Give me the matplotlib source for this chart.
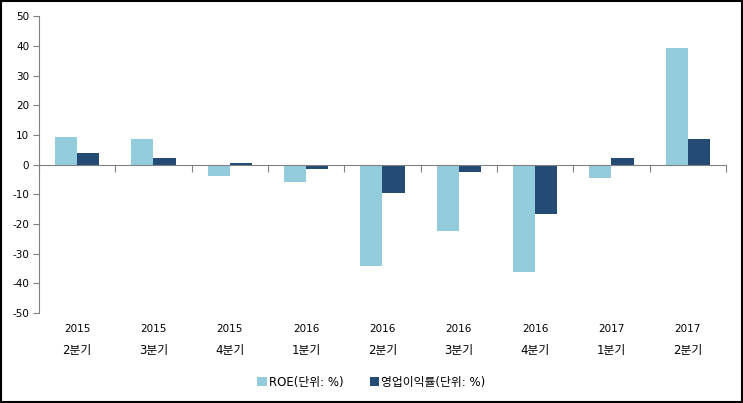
import numpy as np
import matplotlib.pyplot as plt
import matplotlib.transforms as mtransforms
from matplotlib.patches import Rectangle

plt.rcParams['font.family'] = ['DejaVu Sans', 'Noto Sans CJK KR']
plt.rcParams['axes.unicode_minus'] = False

years = ['2015', '2015', '2015', '2016', '2016', '2016', '2016', '2017', '2017']
quarters = ['2분기', '3분기', '4분기', '1분기', '2분기', '3분기', '4분기', '1분기', '2분기']
roe = [9.2, 8.6, -3.9, -5.9, -34.2, -22.4, -36.2, -4.5, 39.2]
op_margin = [3.9, 2.2, 0.5, -1.5, -9.6, -2.5, -16.7, 2.2, 8.6]
series_names = ['ROE(단위: %)', '영업이익률(단위: %)']

fig = plt.figure(figsize=(7.43, 4.03), dpi=100)
ax = fig.add_axes([0.0525, 0.223, 0.9245, 0.737])

x = np.arange(len(years))
w = 0.29
ax.bar(x - w / 2, roe, w, color='#93CDDD', label=series_names[0])
ax.bar(x + w / 2, op_margin, w, color='#234B74', label=series_names[1])

ax.set_xlim(-0.5, len(years) - 0.5)
ax.set_ylim(-50, 50)
ax.set_yticks(np.arange(-50, 51, 10))
ax.tick_params(axis='y', labelsize=7.5, length=4, color='#808080', pad=3)

# category axis crosses at zero, labels stay at the bottom
ax.spines['top'].set_visible(False)
ax.spines['right'].set_visible(False)
ax.spines['bottom'].set_position(('data', 0))
ax.spines['bottom'].set_color('#808080')
ax.spines['left'].set_color('#808080')
ax.set_xticks(np.arange(-0.5, len(years), 1.0))
ax.set_xticklabels([])
ax.tick_params(axis='x', length=5, color='#808080')

trans = mtransforms.blended_transform_factory(ax.transData, ax.transAxes)
for i in range(len(years)):
    ax.text(x[i], -0.055, years[i], transform=trans, ha='center', va='center', fontsize=7.5)
    ax.text(x[i], -0.125, quarters[i], transform=trans, ha='center', va='center', fontsize=8.5)

fig.legend(loc='center', bbox_to_anchor=(0.5, 0.052), ncol=2, frameon=False,
           fontsize=8.5, handlelength=0.8, handleheight=0.8, handletextpad=0.2,
           columnspacing=2.2)

fig.add_artist(Rectangle((0.001, 0.002), 0.997, 0.996, transform=fig.transFigure,
                         fill=False, edgecolor='black', linewidth=1.5))

fig.savefig('out.png', dpi=100)
